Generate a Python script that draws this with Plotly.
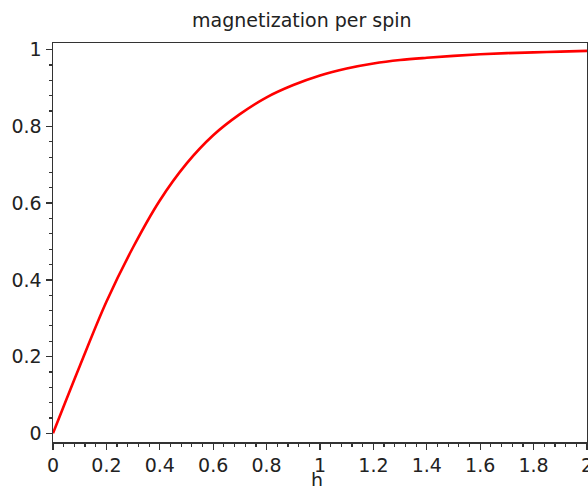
import plotly.graph_objects as go

h_values = [0.0, 0.1, 0.2, 0.3, 0.4, 0.5, 0.6, 0.7, 0.8, 0.9, 1.0,
            1.1, 1.2, 1.3, 1.4, 1.5, 1.6, 1.7, 1.8, 1.9, 2.0]
magnetization = [0.0, 0.175, 0.343, 0.485, 0.607, 0.703, 0.777, 0.832, 0.876, 0.908, 0.933,
                 0.951, 0.964, 0.973, 0.979, 0.984, 0.988, 0.991, 0.993, 0.995, 0.997]

x_ticks = [0, 0.2, 0.4, 0.6, 0.8, 1.0, 1.2, 1.4, 1.6, 1.8, 2.0]
x_tick_labels = ["0", "0.2", "0.4", "0.6", "0.8", "1", "1.2", "1.4", "1.6", "1.8", "2"]
y_ticks = [0, 0.2, 0.4, 0.6, 0.8, 1.0]
y_tick_labels = ["0", "0.2", "0.4", "0.6", "0.8", "1"]

title_text = "magnetization per spin"
x_label = "h"

fig = go.Figure()
fig.add_trace(go.Scatter(
    x=h_values, y=magnetization, mode="lines",
    line=dict(color="#ff0000", width=2.6, shape="spline"),
    showlegend=False, hoverinfo="skip",
))

axis_font = dict(family="DejaVu Sans, sans-serif", size=19, color="#222222")

fig.update_layout(
    width=588, height=486,
    margin=dict(l=53, r=1, t=43, b=44, autoexpand=False),
    paper_bgcolor="white", plot_bgcolor="white",
    font=axis_font,
    showlegend=False,
    annotations=[
        dict(text=title_text, xref="paper", yref="paper", x=0.466, y=1.0,
             yshift=10, xanchor="center", yanchor="bottom", showarrow=False,
             font=dict(family="DejaVu Sans, sans-serif", size=19, color="#222222")),
        dict(text=x_label, xref="paper", yref="paper", x=0.494, y=-0.063,
             xanchor="center", yanchor="top", showarrow=False,
             font=axis_font),
    ],
)

common = dict(
    showgrid=False, zeroline=False,
    showline=True, linecolor="#333333", linewidth=1.5, mirror=True,
    ticks="outside", ticklen=6, tickwidth=1.3, tickcolor="#333333",
    minor=dict(dtick=0.04, tick0=0, ticks="outside", ticklen=3, tickwidth=1.2,
               tickcolor="#333333", showgrid=False),
    tickfont=axis_font, fixedrange=True, automargin=False,
    ticklabeloverflow="allow",
)

fig.update_xaxes(range=[0, 2], tickmode="array", tickvals=x_ticks,
                 ticktext=x_tick_labels, **common)
fig.update_yaxes(range=[-0.0227, 1.0175], tickmode="array", tickvals=y_ticks,
                 ticktext=y_tick_labels, **common)

fig.write_html(
    "out.html",
    config={"displayModeBar": False, "staticPlot": True},
    post_script="document.body.style.margin='0';document.body.style.overflow='hidden';",
)
